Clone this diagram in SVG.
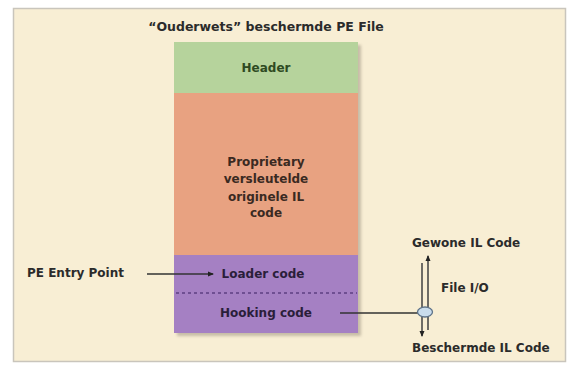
<svg xmlns="http://www.w3.org/2000/svg" width="576" height="367" viewBox="0 0 576 367">
<defs>
<style>
text{font-family:"DejaVu Sans","Liberation Sans",sans-serif;font-weight:bold;font-size:12px;fill:#2b2b2b}
.c{text-anchor:middle}
.ln{stroke:#333;stroke-width:1.3;fill:none}
.io{stroke:#4a4a4a;stroke-width:1.6;fill:none}
</style>
<marker id="ah" markerWidth="6" markerHeight="6" refX="5" refY="3" orient="auto" markerUnits="userSpaceOnUse">
<path d="M0,0.5 L6,3 L0,5.5 Z" fill="#222"/>
</marker>
<filter id="sh" x="-10%" y="-10%" width="130%" height="130%">
<feGaussianBlur stdDeviation="1.5"/>
</filter>
</defs>
<rect x="0" y="0" width="576" height="367" fill="#ffffff"/>
<g id="panel">
<rect x="13.5" y="8.5" width="552" height="353" fill="#f8eed4" stroke="#c9c5bc" stroke-width="1.5"/>
<text class="c" x="266" y="31" style="font-size:12.5px">“Ouderwets” beschermde PE File</text>
</g>
<rect x="177" y="45" width="184" height="291" fill="#8a8070" opacity="0.45" filter="url(#sh)"/>
<g id="header">
<rect x="174" y="42" width="184" height="51" fill="#b6d39c"/>
<text class="c" x="266" y="72" style="fill:#2e4a22">Header</text>
</g>
<g id="encrypted">
<rect x="174" y="93" width="184" height="162" fill="#e8a281"/>
<text class="c" x="266" y="166" style="fill:#3a2a22">Proprietary</text>
<text class="c" x="266" y="183" style="fill:#3a2a22">versleutelde</text>
<text class="c" x="266" y="201" style="fill:#3a2a22">originele IL</text>
<text class="c" x="266" y="217" style="fill:#3a2a22">code</text>
</g>
<g id="loader">
<rect x="174" y="255" width="184" height="78" fill="#a580c3"/>
<line x1="176" y1="293" x2="357" y2="293" stroke="#6f4f92" stroke-width="2" stroke-dasharray="3,3"/>
<text class="c" x="263" y="278" style="fill:#2a1e3a">Loader code</text>
<text class="c" x="266" y="317" style="fill:#2a1e3a">Hooking code</text>
</g>
<g id="entry">
<text x="27" y="277">PE Entry Point</text>
</g>
<g id="labels">
<text x="412" y="247">Gewone IL Code</text>
<text x="441" y="292">File I/O</text>
<text x="412" y="352">Beschermde IL Code</text>
</g>
<g id="connectors">
<line class="ln" x1="147" y1="274" x2="213" y2="274" marker-end="url(#ah)"/>
<line class="ln" x1="340" y1="313" x2="418" y2="313"/>
<line class="io" x1="422" y1="263" x2="422" y2="336" marker-end="url(#ah)"/>
<line class="io" x1="428" y1="330" x2="428" y2="256" marker-end="url(#ah)"/>
<ellipse cx="425" cy="312" rx="7.5" ry="5" fill="#c9dcec" stroke="#5f7388" stroke-width="1.3"/>
</g>
</svg>
